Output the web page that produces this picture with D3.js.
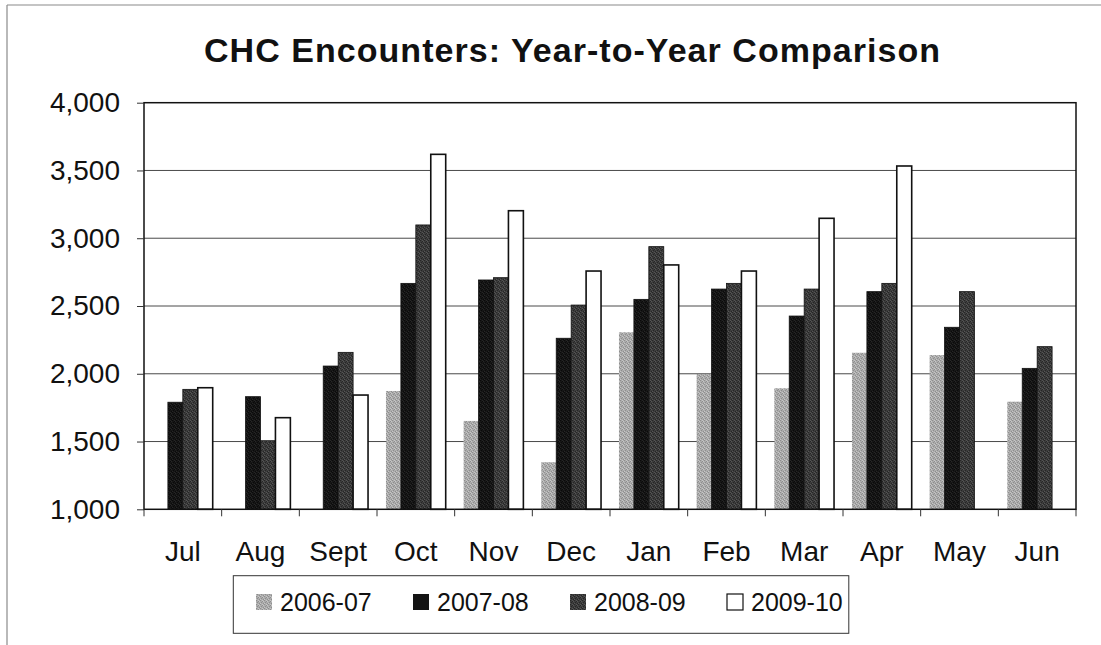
<!DOCTYPE html>
<html>
<head>
<meta charset="utf-8">
<script src="https://cdn.jsdelivr.net/npm/d3@7"></script>
<style>
  html, body { margin: 0; padding: 0; background: #fff; }
  svg { display: block; font-family: "Liberation Sans", Arial, sans-serif; }
</style>
</head>
<body>
<svg id="chart" width="1101" height="645"></svg>
<script>
// Monthly CHC encounter counts, fiscal years July–June
const months = ["Jul", "Aug", "Sept", "Oct", "Nov", "Dec", "Jan", "Feb", "Mar", "Apr", "May", "Jun"];
const seriesNames = ["2006-07", "2007-08", "2008-09", "2009-10"];
const fy0607 = [null, null, null, 1873, 1652, 1347, 2306, 1998, 1893, 2155, 2138, 1794];
const fy0708 = [1790, 1831, 2057, 2667, 2692, 2262, 2549, 2625, 2426, 2606, 2343, 2040];
const fy0809 = [1885, 1506, 2158, 3098, 2709, 2507, 2938, 2667, 2625, 2667, 2606, 2200];
const fy0910 = [1897, 1676, 1843, 3619, 3203, 2758, 2803, 2758, 3147, 3533, null, null];
const yTicks = [1000, 1500, 2000, 2500, 3000, 3500, 4000];

const seriesValues = [fy0607, fy0708, fy0809, fy0910];

const svg = d3.select("#chart");
const plot = { left: 144, right: 1076, top: 102.7, bottom: 509.3 };

// Halftone-like fills for the printed bar shades
const defs = svg.append("defs");
function halftone(id, base, dark, light) {
  const p = defs.append("pattern").attr("id", id)
    .attr("width", 4).attr("height", 4).attr("patternUnits", "userSpaceOnUse");
  p.append("rect").attr("width", 4).attr("height", 4).attr("fill", base);
  [[0, 0], [2, 1], [1, 2], [3, 3]].forEach(([x, y]) =>
    p.append("rect").attr("x", x).attr("y", y).attr("width", 1).attr("height", 1).attr("fill", dark));
  [[2, 0], [0, 3], [3, 1]].forEach(([x, y]) =>
    p.append("rect").attr("x", x).attr("y", y).attr("width", 1).attr("height", 1).attr("fill", light));
}
halftone("pGray", "#acacac", "#8e8e8e", "#c6c6c6");
halftone("pDark", "#3c3c3c", "#262626", "#555555");
halftone("pBlack", "#161616", "#0a0a0a", "#262626");

const fills = ["url(#pGray)", "url(#pBlack)", "url(#pDark)", "#ffffff"];
const strokes = ["none", "#111", "#111", "#111"];
const strokeW = [0, 0.8, 0.8, 1.6];
const legendFills = ["url(#pGray)", "#141414", "url(#pDark)", "#ffffff"];

// Outer frame (left and top edges)
svg.append("line").attr("x1", 7).attr("x2", 7).attr("y1", 5).attr("y2", 645)
  .attr("stroke", "#8a8a8a").attr("stroke-width", 1.2);
svg.append("line").attr("x1", 7).attr("x2", 1101).attr("y1", 5).attr("y2", 5)
  .attr("stroke", "#8a8a8a").attr("stroke-width", 1.2);

// Scales
const x0 = d3.scaleBand().domain(months).range([plot.left, plot.right]).paddingInner(0).paddingOuter(0);
const x1 = d3.scaleBand().domain(seriesNames).range([0, x0.bandwidth()]).paddingInner(0).paddingOuter(0.6);
const y = d3.scaleLinear().domain([1000, 4000]).range([plot.bottom, plot.top]);

// Gridlines
svg.append("g").selectAll("line").data(yTicks.filter(t => t > 1000 && t < 4000)).join("line")
  .attr("x1", plot.left).attr("x2", plot.right)
  .attr("y1", d => y(d)).attr("y2", d => y(d))
  .attr("stroke", "#4a4a4a").attr("stroke-width", 1);

// Bars
const rows = [];
months.forEach((m, i) => seriesValues.forEach((vals, s) => {
  if (vals[i] != null) rows.push({ month: m, s, value: vals[i] });
}));
svg.append("g").selectAll("rect").data(rows).join("rect")
  .attr("x", d => x0(d.month) + x1(seriesNames[d.s]))
  .attr("width", x1.bandwidth())
  .attr("y", d => y(d.value))
  .attr("height", d => y(1000) - y(d.value))
  .attr("fill", d => fills[d.s])
  .attr("stroke", d => strokes[d.s])
  .attr("stroke-width", d => strokeW[d.s]);

// Plot frame
svg.append("rect")
  .attr("x", plot.left).attr("y", plot.top)
  .attr("width", plot.right - plot.left).attr("height", plot.bottom - plot.top)
  .attr("fill", "none").attr("stroke", "#111").attr("stroke-width", 1.5);

// Y axis
const yAxis = svg.append("g").attr("transform", `translate(${plot.left},0)`)
  .call(d3.axisLeft(y).tickValues(yTicks).tickFormat(d3.format(",")).tickSize(7).tickPadding(17));
yAxis.select(".domain").remove();
yAxis.selectAll(".tick line").attr("stroke", "#333");
yAxis.selectAll("text").attr("font-size", 28).attr("fill", "#111")
  .attr("font-family", "'Liberation Sans', Arial, sans-serif");

// X axis: category labels centred, ticks on group boundaries
const xAxis = svg.append("g").attr("transform", `translate(0,${plot.bottom})`)
  .call(d3.axisBottom(x0).tickSize(0).tickPadding(32));
xAxis.select(".domain").remove();
xAxis.selectAll("text").attr("font-size", 28).attr("fill", "#111")
  .attr("font-family", "'Liberation Sans', Arial, sans-serif");
const boundaries = months.map(m => x0(m)).concat([x0.range()[1]]);
svg.append("g").selectAll("line").data(boundaries).join("line")
  .attr("x1", d => d).attr("x2", d => d)
  .attr("y1", plot.bottom).attr("y2", plot.bottom + 7)
  .attr("stroke", "#333").attr("stroke-width", 1);

// Title
svg.append("text")
  .attr("x", 572).attr("y", 62)
  .attr("text-anchor", "middle")
  .attr("font-size", 34).attr("font-weight", "bold").attr("fill", "#111")
  .attr("textLength", 736).attr("lengthAdjust", "spacing")
  .text("CHC Encounters: Year-to-Year Comparison");

// Legend
const legend = svg.append("g");
legend.append("rect")
  .attr("x", 233.3).attr("y", 575.7).attr("width", 615.5).attr("height", 57.6)
  .attr("fill", "#fff").attr("stroke", "#333").attr("stroke-width", 1);
const item = legend.selectAll("g.item").data(seriesNames).join("g")
  .attr("class", "item")
  .attr("transform", (d, i) => `translate(${256 + i * 157},0)`);
item.append("rect")
  .attr("x", 0).attr("y", 594).attr("width", 16).attr("height", 16)
  .attr("fill", (d, i) => legendFills[i])
  .attr("stroke", (d, i) => i === 3 ? "#111" : "none")
  .attr("stroke-width", 1.2);
item.append("text")
  .attr("x", 24).attr("y", 611)
  .attr("font-size", 25).attr("fill", "#111")
  .text(d => d);
</script>
</body>
</html>
